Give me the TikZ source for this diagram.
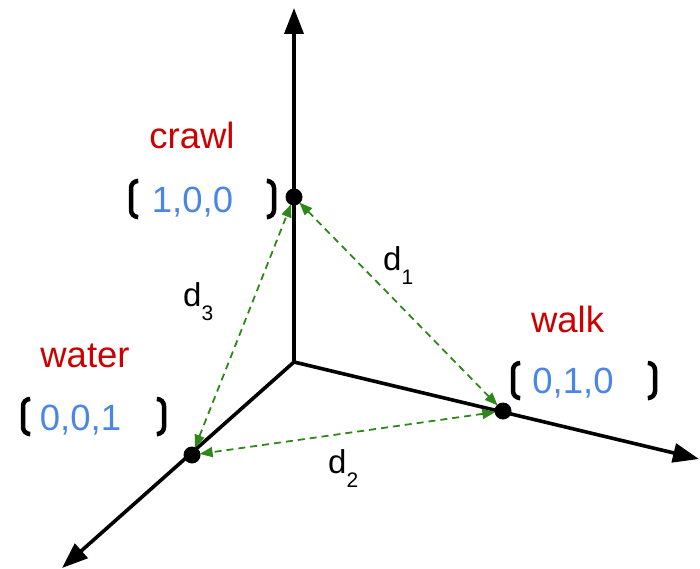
\documentclass[tikz,border=0pt]{standalone}
\usepackage{fontspec}
\setmainfont{Liberation Sans}
\usetikzlibrary{arrows.meta}
\definecolor{lblred}{RGB}{204,0,0}
\definecolor{lblblue}{RGB}{74,134,232}
\definecolor{distgreen}{RGB}{45,135,25}
\tikzset{
  axis/.style={line width=3.6pt, -{Triangle[length=26pt,width=19pt]}},
  dot/.style={circle, fill=black, minimum size=17pt, inner sep=0pt},
  dist/.style={distgreen, line width=1.8pt, dash pattern=on 7pt off 5pt,
    {Triangle[length=13pt,width=10pt]}-{Triangle[length=13pt,width=10pt]}, shorten <=-1pt, shorten >=-1pt},
  word/.style={anchor=base, text=lblred, font=\fontsize{36.5}{40}\selectfont, inner sep=0pt},
  vec/.style={anchor=base, text=lblblue, font=\fontsize{36.5}{40}\selectfont, inner sep=0pt},
  dlab/.style={anchor=base west, font=\fontsize{33}{38}\selectfont, inner sep=0pt},
  brk/.style={line width=4.5pt, rounded corners=7pt, line cap=round}
}
\newcommand{\dsub}[1]{d\raisebox{-14pt}{\fontsize{21}{24}\selectfont #1}}
\begin{document}
\begin{tikzpicture}[x=1pt,y=-1pt]
\useasboundingbox (0,0) rectangle (700,569);
% axes
\coordinate (O) at (294,362);
\coordinate (top) at (294,8);
\coordinate (right) at (699,459);
\coordinate (bl) at (62,568);
\draw[axis] (O) -- (top);
\draw[axis] (O) -- (right);
\draw[axis] (O) -- (bl);
% points
\node[dot] (crawl) at (294,197) {};
\node[dot] (walk) at (503,411) {};
\node[dot] (water) at (192,455) {};
% distances
\draw[dist] (crawl) -- (walk);
\draw[dist] (walk) -- (water);
\draw[dist] (water) -- (crawl);
% labels
\node[word] (tcrawl) at (192,149) {crawl};
\node[vec] (vcrawl) at (192.5,212) {1,0,0};
\node[word] (twater) at (85,367) {water};
\node[vec] (vwater) at (80.5,430) {0,0,1};
\node[word] (twalk) at (567.5,332) {walk};
\node[vec] (vwalk) at (573,393) {0,1,0};
\node[dlab] (d1) at (383,270) {\dsub{1}};
\node[dlab] (d3) at (183,306) {\dsub{3}};
\node[dlab] (d2) at (328,473) {\dsub{2}};
% brackets
\draw[brk] (137,181) -- (131,181) -- (131,217) -- (137,217);
\draw[brk] (268,181) -- (274,181) -- (274,217) -- (268,217);
\draw[brk] (29,399) -- (23,399) -- (23,434) -- (29,434);
\draw[brk] (158,399) -- (164,399) -- (164,434) -- (158,434);
\draw[brk] (519,363) -- (513,363) -- (513,398) -- (519,398);
\draw[brk] (649,363) -- (655,363) -- (655,398) -- (649,398);
\end{tikzpicture}
\end{document}
